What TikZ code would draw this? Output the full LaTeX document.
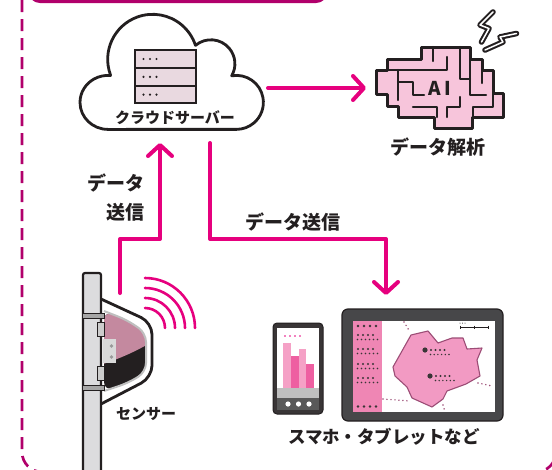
\documentclass[tikz,border=0pt]{standalone}
\usepackage{fontspec}
\setmainfont{Noto Sans CJK JP}
\usepackage{tikz}
\usetikzlibrary{arrows.meta, positioning, calc}
\definecolor{vino}{HTML}{B1006B}
\definecolor{fucsia}{HTML}{E6007E}
\definecolor{tinta}{HTML}{231F20}
\definecolor{rosaia}{HTML}{F7C5DB}
\definecolor{rosamapa}{HTML}{F29AC3}
\definecolor{bordemapa}{HTML}{9C4D76}
\definecolor{rosapanel}{HTML}{EF86B4}
\definecolor{barraclara}{HTML}{F5A1C6}
\definecolor{barraoscura}{HTML}{EE5FA1}
\definecolor{rack}{HTML}{E9D9E0}
\definecolor{poste}{HTML}{DCDCDE}
\definecolor{lente}{HTML}{C4899F}
\definecolor{pantalla}{HTML}{474749}
\tikzset{
  hueco/.style={inner sep=0pt, outer sep=0pt},
  trazo/.style={draw=tinta, line width=2.8pt, line join=round},
  marco/.style={draw=vino, line width=2.7pt, dash pattern=on 12pt off 7pt},
  envio/.style={draw=fucsia, line width=4pt, line join=round, line cap=round,
    -{Straight Barb[length=11pt, width=24pt, round]}},
  onda/.style={draw=fucsia, line width=2.6pt, line cap=round},
  muro/.style={draw=tinta, line width=2.4pt, line cap=round, line join=round},
  rayo/.style={draw=tinta, line width=5.6pt, line join=round, line cap=round,
    postaction={draw=white, line width=1.5pt}},
  rotulo/.style={font=\bfseries\fontsize{19}{29}\selectfont, text=tinta, inner sep=0pt, align=center},
  rotulo chico/.style={rotulo, font=\bfseries\fontsize{15}{18}\selectfont},
  rotulo medio/.style={rotulo, font=\bfseries\fontsize{17.5}{20}\selectfont},
  punto/.style={fill=tinta!90},
  ruta/.style={draw=bordemapa, line width=1.6pt, dash pattern=on 0pt off 4pt, line cap=round},
}
\begin{document}
\begin{tikzpicture}[x=1pt, y=1pt]
  \useasboundingbox (0,0) rectangle (552,-469);
  \clip (0,0) rectangle (552,-469);

  % dashed frame and the tab above it
  \draw[marco, rounded corners=20pt] (22,20) rectangle (556,-472);
  \draw[vino, line width=3pt, rounded corners=10pt] (30,-1.5) rectangle (326,40);

  % cloud with server rack
  \node[hueco, minimum width=182pt, minimum height=120pt] (nube) at (171,-72) {};
  \draw[trazo, fill=white] (110.4,-74.7) arc[start angle=200, end angle=18, radius=45]
    arc[start angle=130, end angle=-30, radius=24]
    arc[start angle=100, end angle=-90, x radius=27, y radius=27]
    -- (108,-129.4) arc[start angle=270, end angle=85, x radius=28, y radius=27] -- cycle;
  \foreach \i in {0,1,2} {
    \draw[draw=tinta, line width=2pt, fill=rack] (135,-50-17.8*\i) rectangle ++(61,-17.8);
    \foreach \d in {0,1,2} \fill[tinta] (143.5+6.5*\d,-59-17.8*\i) circle (1.2pt);
  }
  \node[rotulo chico] (txtnube) at (175,-118) {クラウドサーバー};

  % AI brain
  \node[hueco, minimum width=136pt, minimum height=86pt] (ia) at (435,-88) {};
  \draw[trazo, fill=rosaia, line width=3pt] (421,-47) -- (470,-47) -- (470,-59) -- (482,-59)
    -- (482,-70) -- (493,-70) -- (493,-93) -- (503,-93) -- (503,-117) -- (472,-117)
    -- (472,-128) -- (434,-128) -- (434,-117) -- (398,-117) -- (398,-106) -- (387,-106)
    -- (387,-94) -- (376,-94) -- (376,-70) -- (387,-70) -- (387,-59) -- (421,-59) -- cycle;
  \draw[muro] (433,-47) -- (433,-61)
    (387,-70) -- (447,-70) -- (447,-57)
    (460,-47) -- (460,-79) -- (470,-79)
    (470,-59) -- (470,-95) -- (486,-95)
    (482,-70) -- (482,-83)
    (398,-70) -- (398,-100)
    (398,-82) -- (413,-82) -- (413,-95) -- (424,-95)
    (413,-107) -- (437,-107) -- (437,-117)
    (447,-117) -- (447,-107) -- (460,-107) -- (460,-97)
    (493,-93) -- (493,-107) -- (473,-107) -- (473,-117);
  \node[font=\bfseries\fontsize{19}{19}\selectfont, text=tinta, inner sep=0pt] (ialetras) at (440,-88) {A\,I};
  \draw[rayo] (493,-12) -- (480,-25) -- (489,-28.5) -- (481.5,-42);
  \draw[rayo] (516.5,-33.5) -- (500,-37) -- (503,-42) -- (485,-50);
  \node[rotulo] (txtia) at (438,-147) {データ解析};

  % sensor on its pole
  \node[hueco, minimum width=51pt, minimum height=106pt] (sensor) at (126.5,-351) {};
  \draw[trazo, fill=white, rounded corners=12pt] (101,-299) -- (152,-322.5) -- (152,-377.5) -- (101,-404);
  \fill[tinta] (104,-311) [rounded corners=9pt] -- (127,-320) -- (146,-333) -- (146,-372) -- (128,-383) -- (104,-391) -- cycle;
  \begin{scope}
    \clip (104,-311) [rounded corners=9pt] -- (127,-320) -- (146,-333) -- (146,-372) -- (128,-383) -- (104,-391) -- cycle;
    \fill[lente] (100,-300) -- (150,-300) -- (150,-343) .. controls (138,-350) and (122,-358) .. (100,-365) -- cycle;
  \end{scope}
  \draw[draw=black!25, line width=2pt] (104,-311) [rounded corners=9pt] -- (127,-320) -- (146,-333) -- (146,-372) -- (128,-383) -- (104,-391);
  \fill[black!15] (103,-339) rectangle (116,-363);
  \foreach \y in {346,357} \fill[black!40] (111.5,-\y) circle (1.8pt);
  \draw[trazo, fill=poste, line width=2.2pt, rounded corners=2pt] (83,-490) -- (83,-273) -- (101,-273) -- (101,-490);
  \foreach \y in {313,385} \draw[draw=tinta, line width=0.8pt, fill=black!35] (82,-\y) rectangle (104,-\y-5);
  \foreach \y in {322,366} \draw[draw=tinta, line width=0.8pt, fill=black!20] (97,-\y) rectangle (104,-\y-14);
  \foreach \r in {20,30,40,50} \draw[onda] (145,-328+\r) arc[start angle=90, end angle=0, radius=\r];
  \node[rotulo chico] (txtsensor) at (146,-414) {センサー};

  % phone and tablet
  \node[hueco, minimum width=230pt, minimum height=111pt] (equipos) at (388,-364.5) {};
  \draw[draw=tinta, line width=1pt, fill=tinta!90, rounded corners=4pt] (273,-323) rectangle (323,-414);
  \fill[white] (277,-328) rectangle (319,-388);
  \fill[barraclara] (283,-343) rectangle (291,-388);
  \fill[barraoscura] (291,-356) rectangle (298.5,-388);
  \fill[barraclara] (298.5,-349) rectangle (306,-388);
  \fill[barraoscura] (306,-364) rectangle (314,-388);
  \foreach \k in {0,...,3} \fill[fucsia] (285+5*\k,-336) circle (0.9pt);
  \fill[black!25] (277,-388) rectangle (319,-398);
  \fill[black!65] (277,-398) rectangle (319,-410);
  \foreach \k in {0,1,2} \fill[white] (288+10.5*\k,-404) circle (2.6pt);

  \draw[draw=tinta, line width=1.2pt, fill=pantalla, rounded corners=6pt] (342,-309) rectangle (503,-421);
  \fill[white] (352.5,-320.5) rectangle (495,-412);
  \fill[rosapanel] (352.5,-320.5) rectangle (382,-412);
  \foreach \y in {326,406.5} \foreach \k in {0,...,3} \fill[punto] (358+6*\k,-\y) circle (1.4pt);
  \foreach \y in {335,349,364,378} {
    \foreach \k in {0,...,3} \fill[punto] (358+5*\k,-\y) circle (1.1pt);
    \foreach \k in {0,...,5} \fill[punto] (357.5+4*\k,-\y-4.5) circle (0.8pt);
  }
  \draw[ruta] (404,-322) -- (410,-332);
  \draw[ruta] (478,-383) -- (492,-386);
  \draw[ruta] (383,-399) -- (410,-401);
  \draw[ruta] (443,-405) -- (445,-412);
  \draw[fill=rosamapa, draw=bordemapa, line width=1.1pt, line join=round] (393,-367) -- (411,-335)
    -- (428,-331) -- (438,-343) -- (452,-338) -- (463,-338) -- (467,-349) -- (482,-348)
    -- (477,-360) -- (480,-376) -- (466,-384) -- (447,-391) -- (443,-399) -- (432,-407)
    -- (412,-398) -- (407,-387) -- (395,-376) -- cycle;
  \foreach \cx/\cy in {425/350, 430/376} {
    \fill[punto] (\cx,-\cy) circle (2.6pt);
    \foreach \k in {0,...,3} \fill[punto] (\cx+6+4.5*\k,-\cy) circle (1.1pt);
    \foreach \k in {0,...,5} \fill[punto] (\cx+5.5+3.7*\k,-\cy-4.5) circle (0.8pt);
  }
  \draw[tinta, line width=0.7pt] (460,-327) -- (488,-327);
  \foreach \x in {460,474,488} \draw[tinta, line width=0.7pt] (\x,-325.5) -- (\x,-328.5);
  \foreach \x in {460,462.5,465} \fill[tinta] (\x,-323) circle (0.5pt);
  \node[rotulo medio] (txtequipos) at (384,-437) {スマホ・タブレットなど};

  % data flows
  \draw[envio] ([xshift=6pt,yshift=-16pt]nube.east) -- ([xshift=-1pt]ia.west);
  \draw[envio] ([xshift=-6.5pt,yshift=5pt]sensor.north) |- ++(40,54) -- ([xshift=-11pt,yshift=-11pt]nube.south);
  \draw[envio] ([xshift=39pt,yshift=-11pt]nube.south) -- ++(0,-96) -| ([xshift=-2pt,yshift=14pt]equipos.north);
  \node[rotulo, anchor=east, align=right] (txtsubida) at (145,-197.5) {データ\\送信};
  \node[rotulo] (txtbajada) at (293,-222) {データ送信};
\end{tikzpicture}
\end{document}
